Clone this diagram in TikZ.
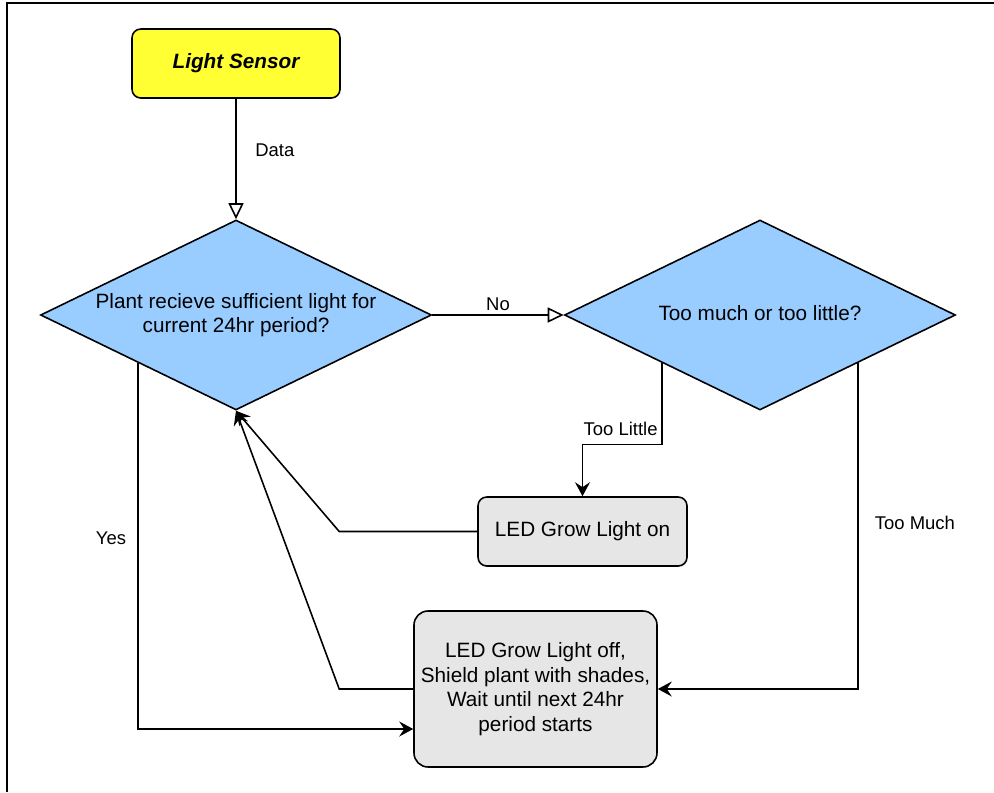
\documentclass[tikz,border=0pt]{standalone}
\usepackage{fontspec}
\setmainfont{Liberation Sans}
\usetikzlibrary{arrows.meta,shapes.geometric,calc}
\definecolor{sensorc}{HTML}{FFFF33}
\definecolor{decisionc}{HTML}{99CCFF}
\definecolor{actionc}{HTML}{E6E6E6}

\begin{document}
\begin{tikzpicture}[
  font=\fontsize{11.8}{13.9}\selectfont,
  box/.style={draw, rounded corners=5pt, align=center, inner sep=2pt, line width=0.9pt},
  decision/.style={draw, diamond, fill=decisionc, aspect=2.06, minimum width=7.82cm,
                   minimum height=3.8cm, inner sep=0pt, align=center, line width=0.9pt},
  arr/.style={-{Stealth[length=2.8mm, width=3mm, inset=1mm]}, line width=0.9pt},
  openarr/.style={-{Triangle[open, length=3.2mm, width=3mm]}, line width=0.9pt},
  lbl/.style={font=\fontsize{10.5}{12}\selectfont, inner sep=2pt}]
\useasboundingbox (0,0) rectangle (19.88,-15.84);
\draw[line width=1.4pt] (0.14,-15.84) -- (0.14,-0.06) -- (19.88,-0.06);
\node[box, fill=sensorc, minimum width=4.16cm, minimum height=1.38cm] (sensor)
     at (4.72,-1.27) {\bfseries\itshape Light Sensor};
\node[decision] (enough) at (4.72,-6.3)
     {Plant recieve sufficient light for\\current 24hr period?};
\node[decision] (amount) at (15.2,-6.3) {\raisebox{0.08cm}{Too much or too little?}};
\node[box, fill=actionc, minimum width=4.18cm, minimum height=1.38cm] (growon)
     at (11.65,-10.63) {LED Grow Light on};
\node[box, fill=actionc, rounded corners=8pt, minimum width=4.86cm, minimum height=3.12cm]
     (growoff) at (10.71,-13.78)
     {LED Grow Light off,\\Shield plant with shades,\\Wait until next 24hr\\period starts};
\coordinate (yes) at ($(enough.west)!0.5!(enough.south)$);
\coordinate (little) at ($(amount.west)!0.5!(amount.south)$);
\coordinate (much) at ($(amount.east)!0.5!(amount.south)$);
\draw[openarr] (sensor) -- node[lbl, pos=0.43, right=0.3cm] {Data} (enough);
\draw[openarr] (enough) -- node[lbl, midway, above=0pt] {No} (amount);
\draw[arr] (little) -- ++(0,-1.63) node[lbl, above left, yshift=0.08cm] {Too Little}
      -| (growon.north);
\draw[arr] (much) |- node[lbl, pos=0.245, right=0.25cm] {Too Much} (growoff.east);
\draw[arr] (yes) |- node[lbl, pos=0.24, left=0.15cm] {Yes} ($(growoff.west)+(0,-0.8)$);
\draw[arr] (growon.west) -- ++(-2.76,0) -- (enough.south);
\draw[arr] (growoff.west) -- ++(-1.48,0) -- (enough.south);
\end{tikzpicture}
\end{document}
